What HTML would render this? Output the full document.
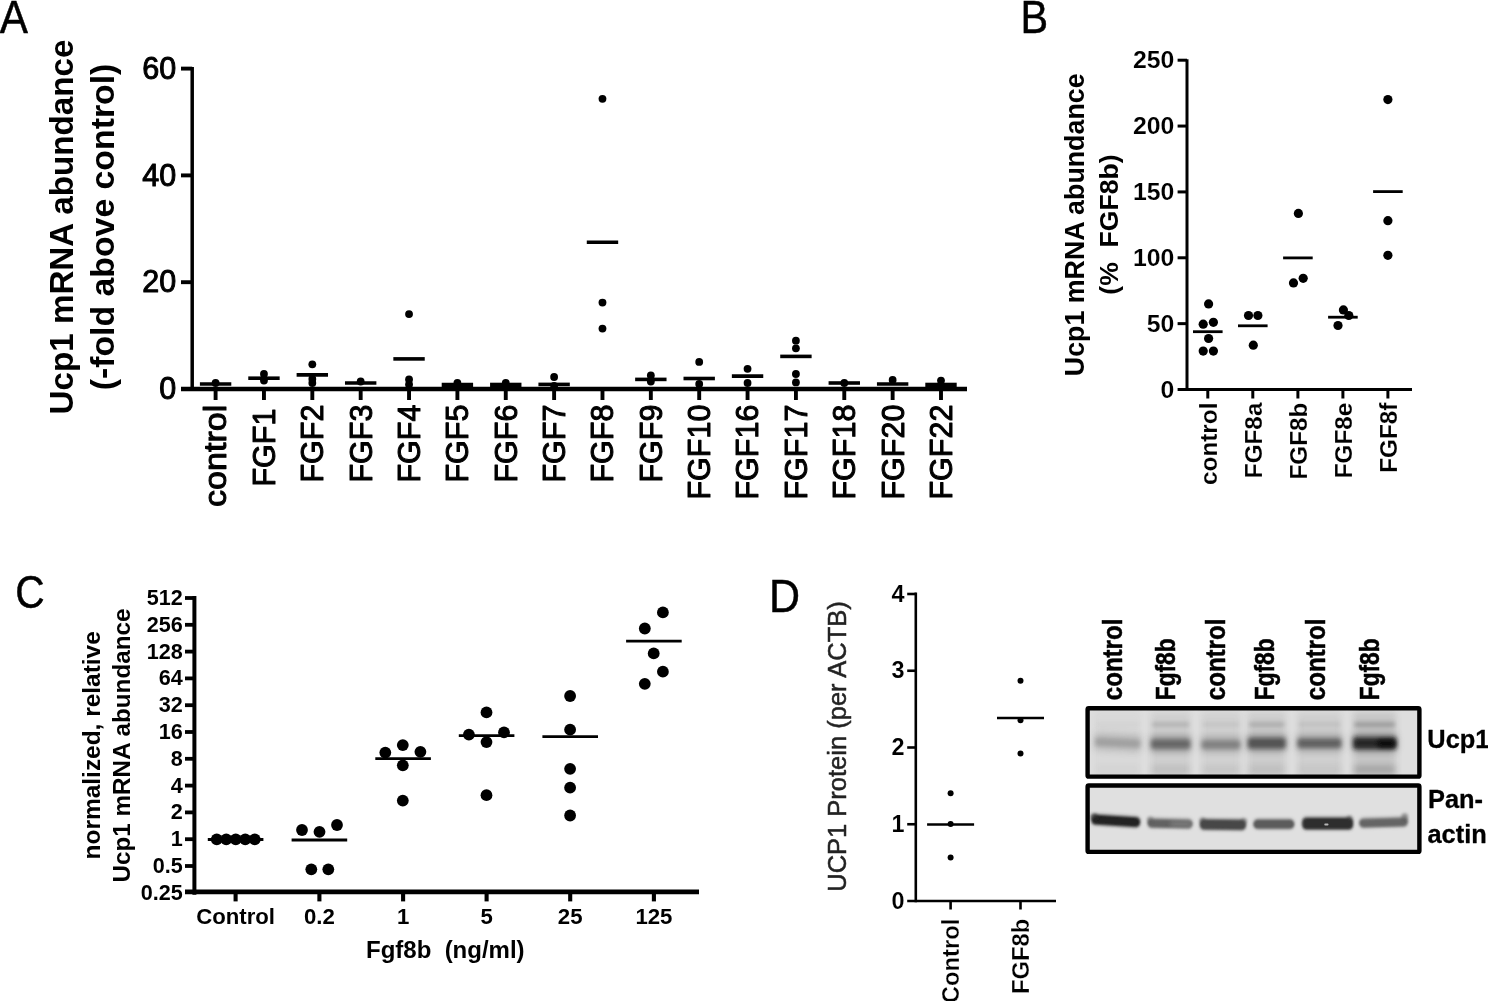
<!DOCTYPE html>
<html><head><meta charset="utf-8"><title>Figure</title>
<style>
html,body{margin:0;padding:0;background:#fff;}
body{width:1488px;height:1001px;overflow:hidden;}
svg{display:block;font-family:'Liberation Sans', sans-serif;}
</style></head><body>
<svg width="1488" height="1001" viewBox="0 0 1488 1001">
<defs>
<filter id="b05" x="-50%" y="-100%" width="200%" height="300%"><feGaussianBlur stdDeviation="0.5"/></filter>
<filter id="b1" x="-20%" y="-80%" width="140%" height="260%"><feGaussianBlur stdDeviation="0.9"/></filter>
<filter id="b15" x="-30%" y="-100%" width="160%" height="300%"><feGaussianBlur stdDeviation="1.5"/></filter>
<filter id="b2" x="-20%" y="-150%" width="140%" height="400%"><feGaussianBlur stdDeviation="2.0"/></filter>
<filter id="b3" x="-20%" y="-60%" width="140%" height="220%"><feGaussianBlur stdDeviation="3"/></filter>
<filter id="soft"><feGaussianBlur stdDeviation="0.45"/></filter>
</defs>
<rect width="1488" height="1001" fill="#fff"/>
<g filter="url(#soft)">
<text transform="translate(-0.3 32.9) scale(0.92 1)" x="0" y="0" font-size="46" stroke="#000" stroke-width="0.5">A</text>
<text transform="translate(1020.6 32.9) scale(0.9 1)" x="0" y="0" font-size="46" stroke="#000" stroke-width="0.5">B</text>
<text transform="translate(15.2 607.7) scale(0.875 1)" x="0" y="0" font-size="46.5" stroke="#000" stroke-width="0.5">C</text>
<text transform="translate(769.0 611.7) scale(0.925 1)" x="0" y="0" font-size="46.5" stroke="#000" stroke-width="0.5">D</text>
<line x1="192.20" y1="67.10" x2="192.20" y2="390.95" stroke="#000" stroke-width="3.5" stroke-linecap="butt"/>
<line x1="181.00" y1="389.00" x2="967.00" y2="389.00" stroke="#000" stroke-width="4.3" stroke-linecap="butt"/>
<line x1="181.00" y1="282.20" x2="192.20" y2="282.20" stroke="#000" stroke-width="3.9" stroke-linecap="butt"/>
<line x1="181.00" y1="175.40" x2="192.20" y2="175.40" stroke="#000" stroke-width="3.9" stroke-linecap="butt"/>
<line x1="181.00" y1="68.60" x2="192.20" y2="68.60" stroke="#000" stroke-width="3.9" stroke-linecap="butt"/>
<text x="176.20" y="399.20" font-size="30.5" font-weight="normal" text-anchor="end" fill="#000" stroke="#000" stroke-width="1.0" stroke-linejoin="round">0</text>
<text x="176.20" y="292.40" font-size="30.5" font-weight="normal" text-anchor="end" fill="#000" stroke="#000" stroke-width="1.0" stroke-linejoin="round">20</text>
<text x="176.20" y="185.60" font-size="30.5" font-weight="normal" text-anchor="end" fill="#000" stroke="#000" stroke-width="1.0" stroke-linejoin="round">40</text>
<text x="176.20" y="78.80" font-size="30.5" font-weight="normal" text-anchor="end" fill="#000" stroke="#000" stroke-width="1.0" stroke-linejoin="round">60</text>
<line x1="215.60" y1="389.00" x2="215.60" y2="400.00" stroke="#000" stroke-width="3.9" stroke-linecap="butt"/>
<text x="226.40" y="404.60" font-size="31" font-weight="normal" text-anchor="end" fill="#000" transform="rotate(-90 226.40 404.60)" textLength="102.5" lengthAdjust="spacingAndGlyphs" stroke="#000" stroke-width="1.0" stroke-linejoin="round">control</text>
<line x1="263.96" y1="389.00" x2="263.96" y2="400.00" stroke="#000" stroke-width="3.9" stroke-linecap="butt"/>
<text x="274.86" y="408.60" font-size="30.5" font-weight="normal" text-anchor="end" fill="#000" transform="rotate(-90 274.86 408.60)" stroke="#000" stroke-width="1.0" stroke-linejoin="round">FGF1</text>
<line x1="312.32" y1="389.00" x2="312.32" y2="400.00" stroke="#000" stroke-width="3.9" stroke-linecap="butt"/>
<text x="323.22" y="404.60" font-size="30.5" font-weight="normal" text-anchor="end" fill="#000" transform="rotate(-90 323.22 404.60)" stroke="#000" stroke-width="1.0" stroke-linejoin="round">FGF2</text>
<line x1="360.68" y1="389.00" x2="360.68" y2="400.00" stroke="#000" stroke-width="3.9" stroke-linecap="butt"/>
<text x="371.58" y="404.60" font-size="30.5" font-weight="normal" text-anchor="end" fill="#000" transform="rotate(-90 371.58 404.60)" stroke="#000" stroke-width="1.0" stroke-linejoin="round">FGF3</text>
<line x1="409.04" y1="389.00" x2="409.04" y2="400.00" stroke="#000" stroke-width="3.9" stroke-linecap="butt"/>
<text x="419.94" y="404.60" font-size="30.5" font-weight="normal" text-anchor="end" fill="#000" transform="rotate(-90 419.94 404.60)" stroke="#000" stroke-width="1.0" stroke-linejoin="round">FGF4</text>
<line x1="457.40" y1="389.00" x2="457.40" y2="400.00" stroke="#000" stroke-width="3.9" stroke-linecap="butt"/>
<text x="468.30" y="404.60" font-size="30.5" font-weight="normal" text-anchor="end" fill="#000" transform="rotate(-90 468.30 404.60)" stroke="#000" stroke-width="1.0" stroke-linejoin="round">FGF5</text>
<line x1="505.76" y1="389.00" x2="505.76" y2="400.00" stroke="#000" stroke-width="3.9" stroke-linecap="butt"/>
<text x="516.66" y="404.60" font-size="30.5" font-weight="normal" text-anchor="end" fill="#000" transform="rotate(-90 516.66 404.60)" stroke="#000" stroke-width="1.0" stroke-linejoin="round">FGF6</text>
<line x1="554.12" y1="389.00" x2="554.12" y2="400.00" stroke="#000" stroke-width="3.9" stroke-linecap="butt"/>
<text x="565.02" y="404.60" font-size="30.5" font-weight="normal" text-anchor="end" fill="#000" transform="rotate(-90 565.02 404.60)" stroke="#000" stroke-width="1.0" stroke-linejoin="round">FGF7</text>
<line x1="602.48" y1="389.00" x2="602.48" y2="400.00" stroke="#000" stroke-width="3.9" stroke-linecap="butt"/>
<text x="613.38" y="404.60" font-size="30.5" font-weight="normal" text-anchor="end" fill="#000" transform="rotate(-90 613.38 404.60)" stroke="#000" stroke-width="1.0" stroke-linejoin="round">FGF8</text>
<line x1="650.84" y1="389.00" x2="650.84" y2="400.00" stroke="#000" stroke-width="3.9" stroke-linecap="butt"/>
<text x="661.74" y="404.60" font-size="30.5" font-weight="normal" text-anchor="end" fill="#000" transform="rotate(-90 661.74 404.60)" stroke="#000" stroke-width="1.0" stroke-linejoin="round">FGF9</text>
<line x1="699.20" y1="389.00" x2="699.20" y2="400.00" stroke="#000" stroke-width="3.9" stroke-linecap="butt"/>
<text x="710.10" y="404.60" font-size="30.5" font-weight="normal" text-anchor="end" fill="#000" transform="rotate(-90 710.10 404.60)" stroke="#000" stroke-width="1.0" stroke-linejoin="round">FGF10</text>
<line x1="747.56" y1="389.00" x2="747.56" y2="400.00" stroke="#000" stroke-width="3.9" stroke-linecap="butt"/>
<text x="758.46" y="404.60" font-size="30.5" font-weight="normal" text-anchor="end" fill="#000" transform="rotate(-90 758.46 404.60)" stroke="#000" stroke-width="1.0" stroke-linejoin="round">FGF16</text>
<line x1="795.92" y1="389.00" x2="795.92" y2="400.00" stroke="#000" stroke-width="3.9" stroke-linecap="butt"/>
<text x="806.82" y="404.60" font-size="30.5" font-weight="normal" text-anchor="end" fill="#000" transform="rotate(-90 806.82 404.60)" stroke="#000" stroke-width="1.0" stroke-linejoin="round">FGF17</text>
<line x1="844.28" y1="389.00" x2="844.28" y2="400.00" stroke="#000" stroke-width="3.9" stroke-linecap="butt"/>
<text x="855.18" y="404.60" font-size="30.5" font-weight="normal" text-anchor="end" fill="#000" transform="rotate(-90 855.18 404.60)" stroke="#000" stroke-width="1.0" stroke-linejoin="round">FGF18</text>
<line x1="892.64" y1="389.00" x2="892.64" y2="400.00" stroke="#000" stroke-width="3.9" stroke-linecap="butt"/>
<text x="903.54" y="404.60" font-size="30.5" font-weight="normal" text-anchor="end" fill="#000" transform="rotate(-90 903.54 404.60)" stroke="#000" stroke-width="1.0" stroke-linejoin="round">FGF20</text>
<line x1="941.00" y1="389.00" x2="941.00" y2="400.00" stroke="#000" stroke-width="3.9" stroke-linecap="butt"/>
<text x="951.90" y="404.60" font-size="30.5" font-weight="normal" text-anchor="end" fill="#000" transform="rotate(-90 951.90 404.60)" stroke="#000" stroke-width="1.0" stroke-linejoin="round">FGF22</text>
<text x="72.70" y="227.00" font-size="33.2" font-weight="bold" text-anchor="middle" fill="#000" transform="rotate(-90 72.70 227.00)">Ucp1 mRNA abundance</text>
<text x="113.60" y="227.00" font-size="33.8" font-weight="bold" text-anchor="middle" fill="#000" transform="rotate(-90 113.60 227.00)">(-fold above control)</text>
<circle cx="215.60" cy="383.00" r="3.9" fill="#000"/>
<line x1="199.90" y1="384.00" x2="231.30" y2="384.00" stroke="#000" stroke-width="3.6" stroke-linecap="butt"/>
<circle cx="263.96" cy="374.00" r="3.9" fill="#000"/>
<circle cx="263.96" cy="380.60" r="3.9" fill="#000"/>
<line x1="248.26" y1="378.20" x2="279.66" y2="378.20" stroke="#000" stroke-width="3.6" stroke-linecap="butt"/>
<circle cx="312.32" cy="364.30" r="3.9" fill="#000"/>
<circle cx="312.32" cy="379.00" r="3.9" fill="#000"/>
<circle cx="312.32" cy="383.00" r="3.9" fill="#000"/>
<line x1="296.62" y1="374.90" x2="328.02" y2="374.90" stroke="#000" stroke-width="3.6" stroke-linecap="butt"/>
<circle cx="360.68" cy="381.50" r="3.9" fill="#000"/>
<line x1="344.98" y1="383.00" x2="376.38" y2="383.00" stroke="#000" stroke-width="3.6" stroke-linecap="butt"/>
<circle cx="409.04" cy="314.10" r="3.9" fill="#000"/>
<circle cx="409.04" cy="379.40" r="3.9" fill="#000"/>
<circle cx="409.04" cy="384.50" r="3.9" fill="#000"/>
<line x1="393.34" y1="358.90" x2="424.74" y2="358.90" stroke="#000" stroke-width="3.6" stroke-linecap="butt"/>
<circle cx="457.40" cy="383.00" r="3.9" fill="#000"/>
<line x1="441.70" y1="385.20" x2="473.10" y2="385.20" stroke="#000" stroke-width="5.0" stroke-linecap="butt"/>
<circle cx="505.76" cy="383.00" r="3.9" fill="#000"/>
<line x1="490.06" y1="385.20" x2="521.46" y2="385.20" stroke="#000" stroke-width="5.0" stroke-linecap="butt"/>
<circle cx="554.12" cy="377.00" r="3.9" fill="#000"/>
<circle cx="554.12" cy="386.00" r="3.9" fill="#000"/>
<line x1="538.42" y1="384.40" x2="569.82" y2="384.40" stroke="#000" stroke-width="3.6" stroke-linecap="butt"/>
<circle cx="602.48" cy="98.80" r="3.9" fill="#000"/>
<circle cx="602.48" cy="302.60" r="3.9" fill="#000"/>
<circle cx="602.48" cy="328.60" r="3.9" fill="#000"/>
<line x1="586.78" y1="242.30" x2="618.18" y2="242.30" stroke="#000" stroke-width="3.6" stroke-linecap="butt"/>
<circle cx="650.84" cy="375.50" r="3.9" fill="#000"/>
<circle cx="650.84" cy="381.50" r="3.9" fill="#000"/>
<line x1="635.14" y1="379.40" x2="666.54" y2="379.40" stroke="#000" stroke-width="3.6" stroke-linecap="butt"/>
<circle cx="699.20" cy="361.90" r="3.9" fill="#000"/>
<circle cx="699.20" cy="384.00" r="3.9" fill="#000"/>
<line x1="683.50" y1="378.50" x2="714.90" y2="378.50" stroke="#000" stroke-width="3.6" stroke-linecap="butt"/>
<circle cx="747.56" cy="368.80" r="3.9" fill="#000"/>
<circle cx="747.56" cy="383.00" r="3.9" fill="#000"/>
<line x1="731.86" y1="376.10" x2="763.26" y2="376.10" stroke="#000" stroke-width="3.6" stroke-linecap="butt"/>
<circle cx="795.92" cy="340.70" r="3.9" fill="#000"/>
<circle cx="795.92" cy="348.30" r="3.9" fill="#000"/>
<circle cx="795.92" cy="374.00" r="3.9" fill="#000"/>
<circle cx="795.92" cy="382.40" r="3.9" fill="#000"/>
<line x1="780.22" y1="356.40" x2="811.62" y2="356.40" stroke="#000" stroke-width="3.6" stroke-linecap="butt"/>
<circle cx="844.28" cy="383.00" r="3.9" fill="#000"/>
<line x1="828.58" y1="383.00" x2="859.98" y2="383.00" stroke="#000" stroke-width="3.6" stroke-linecap="butt"/>
<circle cx="892.64" cy="380.00" r="3.9" fill="#000"/>
<line x1="876.94" y1="384.00" x2="908.34" y2="384.00" stroke="#000" stroke-width="3.6" stroke-linecap="butt"/>
<circle cx="941.00" cy="380.60" r="3.9" fill="#000"/>
<line x1="925.30" y1="385.20" x2="956.70" y2="385.20" stroke="#000" stroke-width="5.0" stroke-linecap="butt"/>
<line x1="1187.00" y1="59.20" x2="1187.00" y2="391.00" stroke="#000" stroke-width="3.0" stroke-linecap="butt"/>
<line x1="1177.60" y1="389.50" x2="1412.00" y2="389.50" stroke="#000" stroke-width="3.0" stroke-linecap="butt"/>
<text x="1174.40" y="397.50" font-size="24.8" font-weight="bold" text-anchor="end" fill="#000" stroke="#fff" stroke-width="0.12" stroke-linejoin="round">0</text>
<line x1="1177.60" y1="323.64" x2="1187.00" y2="323.64" stroke="#000" stroke-width="3.0" stroke-linecap="butt"/>
<text x="1174.40" y="331.64" font-size="24.8" font-weight="bold" text-anchor="end" fill="#000" stroke="#fff" stroke-width="0.12" stroke-linejoin="round">50</text>
<line x1="1177.60" y1="257.78" x2="1187.00" y2="257.78" stroke="#000" stroke-width="3.0" stroke-linecap="butt"/>
<text x="1174.40" y="265.78" font-size="24.8" font-weight="bold" text-anchor="end" fill="#000" stroke="#fff" stroke-width="0.12" stroke-linejoin="round">100</text>
<line x1="1177.60" y1="191.92" x2="1187.00" y2="191.92" stroke="#000" stroke-width="3.0" stroke-linecap="butt"/>
<text x="1174.40" y="199.92" font-size="24.8" font-weight="bold" text-anchor="end" fill="#000" stroke="#fff" stroke-width="0.12" stroke-linejoin="round">150</text>
<line x1="1177.60" y1="126.06" x2="1187.00" y2="126.06" stroke="#000" stroke-width="3.0" stroke-linecap="butt"/>
<text x="1174.40" y="134.06" font-size="24.8" font-weight="bold" text-anchor="end" fill="#000" stroke="#fff" stroke-width="0.12" stroke-linejoin="round">200</text>
<line x1="1177.60" y1="60.20" x2="1187.00" y2="60.20" stroke="#000" stroke-width="3.0" stroke-linecap="butt"/>
<text x="1174.40" y="68.20" font-size="24.8" font-weight="bold" text-anchor="end" fill="#000" stroke="#fff" stroke-width="0.12" stroke-linejoin="round">250</text>
<line x1="1207.80" y1="389.50" x2="1207.80" y2="398.50" stroke="#000" stroke-width="3.0" stroke-linecap="butt"/>
<text x="1216.60" y="402.60" font-size="24.3" font-weight="bold" text-anchor="end" fill="#000" transform="rotate(-90 1216.60 402.60)" stroke="#fff" stroke-width="0.12" stroke-linejoin="round">control</text>
<line x1="1252.80" y1="389.50" x2="1252.80" y2="398.50" stroke="#000" stroke-width="3.0" stroke-linecap="butt"/>
<text x="1261.60" y="402.60" font-size="24.3" font-weight="bold" text-anchor="end" fill="#000" transform="rotate(-90 1261.60 402.60)" stroke="#fff" stroke-width="0.12" stroke-linejoin="round">FGF8a</text>
<line x1="1297.90" y1="389.50" x2="1297.90" y2="398.50" stroke="#000" stroke-width="3.0" stroke-linecap="butt"/>
<text x="1306.70" y="402.60" font-size="24.3" font-weight="bold" text-anchor="end" fill="#000" transform="rotate(-90 1306.70 402.60)" stroke="#fff" stroke-width="0.12" stroke-linejoin="round">FGF8b</text>
<line x1="1342.90" y1="389.50" x2="1342.90" y2="398.50" stroke="#000" stroke-width="3.0" stroke-linecap="butt"/>
<text x="1351.70" y="402.60" font-size="24.3" font-weight="bold" text-anchor="end" fill="#000" transform="rotate(-90 1351.70 402.60)" stroke="#fff" stroke-width="0.12" stroke-linejoin="round">FGF8e</text>
<line x1="1387.90" y1="389.50" x2="1387.90" y2="398.50" stroke="#000" stroke-width="3.0" stroke-linecap="butt"/>
<text x="1396.70" y="402.60" font-size="24.3" font-weight="bold" text-anchor="end" fill="#000" transform="rotate(-90 1396.70 402.60)" stroke="#fff" stroke-width="0.12" stroke-linejoin="round">FGF8f</text>
<text x="1084.50" y="224.80" font-size="26.8" font-weight="bold" text-anchor="middle" fill="#000" transform="rotate(-90 1084.50 224.80)">Ucp1 mRNA abundance</text>
<text x="1118.20" y="224.50" font-size="26.6" font-weight="bold" text-anchor="middle" fill="#000" transform="rotate(-90 1118.20 224.50)">(%  FGF8b)</text>
<circle cx="1208.60" cy="303.90" r="4.6" fill="#000"/>
<circle cx="1203.20" cy="324.20" r="4.6" fill="#000"/>
<circle cx="1213.40" cy="322.30" r="4.6" fill="#000"/>
<circle cx="1208.60" cy="338.50" r="4.6" fill="#000"/>
<circle cx="1203.20" cy="351.10" r="4.6" fill="#000"/>
<circle cx="1213.40" cy="351.10" r="4.6" fill="#000"/>
<line x1="1193.00" y1="331.70" x2="1222.60" y2="331.70" stroke="#000" stroke-width="2.8" stroke-linecap="butt"/>
<circle cx="1248.50" cy="315.50" r="4.6" fill="#000"/>
<circle cx="1257.90" cy="315.50" r="4.6" fill="#000"/>
<circle cx="1253.30" cy="345.20" r="4.6" fill="#000"/>
<line x1="1238.00" y1="325.80" x2="1267.60" y2="325.80" stroke="#000" stroke-width="2.8" stroke-linecap="butt"/>
<circle cx="1298.40" cy="213.40" r="4.6" fill="#000"/>
<circle cx="1293.50" cy="282.90" r="4.6" fill="#000"/>
<circle cx="1303.20" cy="278.30" r="4.6" fill="#000"/>
<line x1="1283.10" y1="257.90" x2="1312.70" y2="257.90" stroke="#000" stroke-width="2.8" stroke-linecap="butt"/>
<circle cx="1343.40" cy="309.90" r="4.6" fill="#000"/>
<circle cx="1348.80" cy="315.50" r="4.6" fill="#000"/>
<circle cx="1338.00" cy="325.50" r="4.6" fill="#000"/>
<line x1="1328.10" y1="317.20" x2="1357.70" y2="317.20" stroke="#000" stroke-width="2.8" stroke-linecap="butt"/>
<circle cx="1387.90" cy="99.60" r="4.6" fill="#000"/>
<circle cx="1387.90" cy="220.70" r="4.6" fill="#000"/>
<circle cx="1387.90" cy="255.30" r="4.6" fill="#000"/>
<line x1="1373.10" y1="191.60" x2="1402.70" y2="191.60" stroke="#000" stroke-width="2.8" stroke-linecap="butt"/>
<line x1="194.40" y1="596.00" x2="194.40" y2="894.80" stroke="#000" stroke-width="4.0" stroke-linecap="butt"/>
<line x1="185.00" y1="891.90" x2="699.00" y2="891.90" stroke="#000" stroke-width="4.9" stroke-linecap="butt"/>
<line x1="185.00" y1="598.00" x2="194.40" y2="598.00" stroke="#000" stroke-width="3.8" stroke-linecap="butt"/>
<text x="182.80" y="604.90" font-size="21.6" font-weight="bold" text-anchor="end" fill="#000">512</text>
<line x1="185.00" y1="624.80" x2="194.40" y2="624.80" stroke="#000" stroke-width="3.8" stroke-linecap="butt"/>
<text x="182.80" y="631.70" font-size="21.6" font-weight="bold" text-anchor="end" fill="#000">256</text>
<line x1="185.00" y1="651.60" x2="194.40" y2="651.60" stroke="#000" stroke-width="3.8" stroke-linecap="butt"/>
<text x="182.80" y="658.50" font-size="21.6" font-weight="bold" text-anchor="end" fill="#000">128</text>
<line x1="185.00" y1="678.40" x2="194.40" y2="678.40" stroke="#000" stroke-width="3.8" stroke-linecap="butt"/>
<text x="182.80" y="685.30" font-size="21.6" font-weight="bold" text-anchor="end" fill="#000">64</text>
<line x1="185.00" y1="705.20" x2="194.40" y2="705.20" stroke="#000" stroke-width="3.8" stroke-linecap="butt"/>
<text x="182.80" y="712.10" font-size="21.6" font-weight="bold" text-anchor="end" fill="#000">32</text>
<line x1="185.00" y1="732.00" x2="194.40" y2="732.00" stroke="#000" stroke-width="3.8" stroke-linecap="butt"/>
<text x="182.80" y="738.90" font-size="21.6" font-weight="bold" text-anchor="end" fill="#000">16</text>
<line x1="185.00" y1="758.80" x2="194.40" y2="758.80" stroke="#000" stroke-width="3.8" stroke-linecap="butt"/>
<text x="182.80" y="765.70" font-size="21.6" font-weight="bold" text-anchor="end" fill="#000">8</text>
<line x1="185.00" y1="785.60" x2="194.40" y2="785.60" stroke="#000" stroke-width="3.8" stroke-linecap="butt"/>
<text x="182.80" y="792.50" font-size="21.6" font-weight="bold" text-anchor="end" fill="#000">4</text>
<line x1="185.00" y1="812.40" x2="194.40" y2="812.40" stroke="#000" stroke-width="3.8" stroke-linecap="butt"/>
<text x="182.80" y="819.30" font-size="21.6" font-weight="bold" text-anchor="end" fill="#000">2</text>
<line x1="185.00" y1="839.20" x2="194.40" y2="839.20" stroke="#000" stroke-width="3.8" stroke-linecap="butt"/>
<text x="182.80" y="846.10" font-size="21.6" font-weight="bold" text-anchor="end" fill="#000">1</text>
<line x1="185.00" y1="866.00" x2="194.40" y2="866.00" stroke="#000" stroke-width="3.8" stroke-linecap="butt"/>
<text x="182.80" y="872.90" font-size="21.6" font-weight="bold" text-anchor="end" fill="#000">0.5</text>
<text x="182.80" y="899.70" font-size="21.6" font-weight="bold" text-anchor="end" fill="#000">0.25</text>
<line x1="235.60" y1="892.80" x2="235.60" y2="901.40" stroke="#000" stroke-width="4.1" stroke-linecap="butt"/>
<text x="235.60" y="924.30" font-size="22.2" font-weight="bold" text-anchor="middle" fill="#000">Control</text>
<line x1="319.40" y1="892.80" x2="319.40" y2="901.40" stroke="#000" stroke-width="4.1" stroke-linecap="butt"/>
<text x="319.40" y="924.30" font-size="22.2" font-weight="bold" text-anchor="middle" fill="#000">0.2</text>
<line x1="403.10" y1="892.80" x2="403.10" y2="901.40" stroke="#000" stroke-width="4.1" stroke-linecap="butt"/>
<text x="403.10" y="924.30" font-size="22.2" font-weight="bold" text-anchor="middle" fill="#000">1</text>
<line x1="486.60" y1="892.80" x2="486.60" y2="901.40" stroke="#000" stroke-width="4.1" stroke-linecap="butt"/>
<text x="486.60" y="924.30" font-size="22.2" font-weight="bold" text-anchor="middle" fill="#000">5</text>
<line x1="570.20" y1="892.80" x2="570.20" y2="901.40" stroke="#000" stroke-width="4.1" stroke-linecap="butt"/>
<text x="570.20" y="924.30" font-size="22.2" font-weight="bold" text-anchor="middle" fill="#000">25</text>
<line x1="653.90" y1="892.80" x2="653.90" y2="901.40" stroke="#000" stroke-width="4.1" stroke-linecap="butt"/>
<text x="653.90" y="924.30" font-size="22.2" font-weight="bold" text-anchor="middle" fill="#000">125</text>
<text x="445.30" y="958.00" font-size="24" font-weight="bold" text-anchor="middle" fill="#000">Fgf8b  (ng/ml)</text>
<text x="100.00" y="745.30" font-size="24.45" font-weight="bold" text-anchor="middle" fill="#000" transform="rotate(-90 100.00 745.30)">normalized, relative</text>
<text x="129.60" y="745.50" font-size="24.25" font-weight="bold" text-anchor="middle" fill="#000" transform="rotate(-90 129.60 745.50)">Ucp1 mRNA abundance</text>
<circle cx="216.75" cy="839.30" r="5.9" fill="#000"/>
<circle cx="226.25" cy="839.30" r="5.9" fill="#000"/>
<circle cx="235.75" cy="839.30" r="5.9" fill="#000"/>
<circle cx="245.25" cy="839.30" r="5.9" fill="#000"/>
<circle cx="254.75" cy="839.30" r="5.9" fill="#000"/>
<line x1="207.80" y1="839.50" x2="263.40" y2="839.50" stroke="#000" stroke-width="2.8" stroke-linecap="butt"/>
<circle cx="302.00" cy="830.00" r="5.9" fill="#000"/>
<circle cx="319.50" cy="831.80" r="5.9" fill="#000"/>
<circle cx="337.00" cy="825.00" r="5.9" fill="#000"/>
<circle cx="311.30" cy="869.30" r="5.9" fill="#000"/>
<circle cx="328.30" cy="869.30" r="5.9" fill="#000"/>
<line x1="291.60" y1="840.00" x2="347.20" y2="840.00" stroke="#000" stroke-width="2.8" stroke-linecap="butt"/>
<circle cx="402.80" cy="745.10" r="5.9" fill="#000"/>
<circle cx="385.30" cy="752.60" r="5.9" fill="#000"/>
<circle cx="420.40" cy="751.80" r="5.9" fill="#000"/>
<circle cx="402.80" cy="765.30" r="5.9" fill="#000"/>
<circle cx="402.80" cy="800.60" r="5.9" fill="#000"/>
<line x1="375.30" y1="758.60" x2="430.90" y2="758.60" stroke="#000" stroke-width="2.8" stroke-linecap="butt"/>
<circle cx="486.50" cy="712.40" r="5.9" fill="#000"/>
<circle cx="468.90" cy="734.60" r="5.9" fill="#000"/>
<circle cx="504.00" cy="732.40" r="5.9" fill="#000"/>
<circle cx="486.50" cy="742.10" r="5.9" fill="#000"/>
<circle cx="486.50" cy="795.20" r="5.9" fill="#000"/>
<line x1="458.80" y1="735.60" x2="514.40" y2="735.60" stroke="#000" stroke-width="2.8" stroke-linecap="butt"/>
<circle cx="570.10" cy="696.00" r="5.9" fill="#000"/>
<circle cx="570.10" cy="729.70" r="5.9" fill="#000"/>
<circle cx="570.10" cy="768.80" r="5.9" fill="#000"/>
<circle cx="570.10" cy="787.70" r="5.9" fill="#000"/>
<circle cx="570.10" cy="815.50" r="5.9" fill="#000"/>
<line x1="542.40" y1="736.70" x2="598.00" y2="736.70" stroke="#000" stroke-width="2.8" stroke-linecap="butt"/>
<circle cx="662.90" cy="612.40" r="5.9" fill="#000"/>
<circle cx="644.80" cy="628.50" r="5.9" fill="#000"/>
<circle cx="653.70" cy="653.40" r="5.9" fill="#000"/>
<circle cx="662.90" cy="671.70" r="5.9" fill="#000"/>
<circle cx="644.80" cy="683.80" r="5.9" fill="#000"/>
<line x1="626.10" y1="641.20" x2="681.70" y2="641.20" stroke="#000" stroke-width="2.8" stroke-linecap="butt"/>
<line x1="915.80" y1="592.50" x2="915.80" y2="902.30" stroke="#000" stroke-width="2.6" stroke-linecap="butt"/>
<line x1="907.20" y1="901.00" x2="1056.00" y2="901.00" stroke="#000" stroke-width="2.6" stroke-linecap="butt"/>
<text x="904.40" y="908.50" font-size="23.4" font-weight="bold" text-anchor="end" fill="#000" stroke="#fff" stroke-width="0.1" stroke-linejoin="round">0</text>
<line x1="907.20" y1="824.25" x2="915.80" y2="824.25" stroke="#000" stroke-width="2.6" stroke-linecap="butt"/>
<text x="904.40" y="831.75" font-size="23.4" font-weight="bold" text-anchor="end" fill="#000" stroke="#fff" stroke-width="0.1" stroke-linejoin="round">1</text>
<line x1="907.20" y1="747.50" x2="915.80" y2="747.50" stroke="#000" stroke-width="2.6" stroke-linecap="butt"/>
<text x="904.40" y="755.00" font-size="23.4" font-weight="bold" text-anchor="end" fill="#000" stroke="#fff" stroke-width="0.1" stroke-linejoin="round">2</text>
<line x1="907.20" y1="670.75" x2="915.80" y2="670.75" stroke="#000" stroke-width="2.6" stroke-linecap="butt"/>
<text x="904.40" y="678.25" font-size="23.4" font-weight="bold" text-anchor="end" fill="#000" stroke="#fff" stroke-width="0.1" stroke-linejoin="round">3</text>
<line x1="907.20" y1="594.00" x2="915.80" y2="594.00" stroke="#000" stroke-width="2.6" stroke-linecap="butt"/>
<text x="904.40" y="601.50" font-size="23.4" font-weight="bold" text-anchor="end" fill="#000" stroke="#fff" stroke-width="0.1" stroke-linejoin="round">4</text>
<line x1="950.60" y1="901.00" x2="950.60" y2="909.50" stroke="#000" stroke-width="2.6" stroke-linecap="butt"/>
<text x="959.10" y="918.60" font-size="23.8" font-weight="bold" text-anchor="end" fill="#000" transform="rotate(-90 959.10 918.60)" stroke="#fff" stroke-width="0.25" stroke-linejoin="round">Control</text>
<line x1="1020.50" y1="901.00" x2="1020.50" y2="909.50" stroke="#000" stroke-width="2.6" stroke-linecap="butt"/>
<text x="1029.00" y="918.60" font-size="23.8" font-weight="bold" text-anchor="end" fill="#000" transform="rotate(-90 1029.00 918.60)" stroke="#fff" stroke-width="0.25" stroke-linejoin="round">FGF8b</text>
<text x="845.80" y="746.50" font-size="25.5" font-weight="normal" text-anchor="middle" fill="#242424" transform="rotate(-90 845.80 746.50)" stroke="#242424" stroke-width="0.5" stroke-linejoin="round">UCP1 Protein (per ACTB)</text>
<circle cx="950.60" cy="793.30" r="3.0" fill="#000"/>
<circle cx="950.60" cy="824.00" r="3.0" fill="#000"/>
<circle cx="950.60" cy="857.60" r="3.0" fill="#000"/>
<line x1="927.10" y1="824.40" x2="974.10" y2="824.40" stroke="#000" stroke-width="2.5" stroke-linecap="butt"/>
<circle cx="1020.50" cy="680.80" r="3.0" fill="#000"/>
<circle cx="1020.50" cy="720.30" r="3.0" fill="#000"/>
<circle cx="1020.50" cy="753.40" r="3.0" fill="#000"/>
<line x1="997.00" y1="717.90" x2="1044.00" y2="717.90" stroke="#000" stroke-width="2.5" stroke-linecap="butt"/>
<clipPath id="c1"><rect x="1087.4" y="708.0" width="332.1999999999998" height="68.79999999999995"/></clipPath>
<clipPath id="c2"><rect x="1087.4" y="785.3" width="332.1999999999998" height="66.80000000000007"/></clipPath>
<g clip-path="url(#c1)">
<rect x="1085.4" y="706.0" width="336.2" height="72.8" rx="0" fill="#dedede" opacity="1.0"/>
<rect x="1095.2" y="712.0" width="45.0" height="66.0" rx="0" fill="#6a6a6a" opacity="0.04" filter="url(#b3)"/>
<rect x="1096.2" y="722.3" width="43.0" height="4.5" rx="0" fill="#555" opacity="0.05" filter="url(#b2)"/>
<rect x="1096.2" y="765.5" width="43.0" height="8.0" rx="0" fill="#555" opacity="0.03" filter="url(#b3)"/>
<rect x="1093.7" y="732.8" width="48.0" height="19.0" rx="5" fill="#5a5a5a" opacity="0.2" filter="url(#b3)" transform="rotate(2.6 1117.7 742.8)"/>
<rect x="1095.2" y="738.5" width="45.0" height="8.6" rx="3" fill="#888888" opacity="0.55" filter="url(#b2)" transform="rotate(2.6 1117.7 742.8)"/>
<rect x="1151.0" y="712.0" width="39.2" height="66.0" rx="0" fill="#6a6a6a" opacity="0.12" filter="url(#b3)"/>
<rect x="1152.0" y="722.3" width="37.2" height="4.5" rx="0" fill="#555" opacity="0.26" filter="url(#b2)"/>
<rect x="1152.0" y="765.5" width="37.2" height="8.0" rx="0" fill="#555" opacity="0.14" filter="url(#b3)"/>
<rect x="1149.5" y="734.0" width="42.2" height="19.0" rx="5" fill="#5a5a5a" opacity="0.34" filter="url(#b3)"/>
<rect x="1151.0" y="739.2" width="39.2" height="9.6" rx="3" fill="#505050" opacity="0.72" filter="url(#b2)"/>
<rect x="1201.6" y="712.0" width="38.6" height="66.0" rx="0" fill="#6a6a6a" opacity="0.1" filter="url(#b3)"/>
<rect x="1202.6" y="722.3" width="36.6" height="4.5" rx="0" fill="#555" opacity="0.12" filter="url(#b2)"/>
<rect x="1202.6" y="765.5" width="36.6" height="8.0" rx="0" fill="#555" opacity="0.1" filter="url(#b3)"/>
<rect x="1200.1" y="734.6" width="41.6" height="19.0" rx="5" fill="#5a5a5a" opacity="0.24" filter="url(#b3)"/>
<rect x="1201.6" y="740.3" width="38.6" height="8.6" rx="3" fill="#686868" opacity="0.66" filter="url(#b2)"/>
<rect x="1248.0" y="712.0" width="37.5" height="66.0" rx="0" fill="#6a6a6a" opacity="0.14" filter="url(#b3)"/>
<rect x="1249.0" y="722.3" width="35.5" height="4.5" rx="0" fill="#555" opacity="0.3" filter="url(#b2)"/>
<rect x="1249.0" y="765.5" width="35.5" height="8.0" rx="0" fill="#555" opacity="0.12" filter="url(#b3)"/>
<rect x="1246.5" y="733.2" width="40.5" height="19.0" rx="5" fill="#5a5a5a" opacity="0.38" filter="url(#b3)"/>
<rect x="1248.0" y="737.9" width="37.5" height="10.6" rx="3" fill="#404040" opacity="0.8" filter="url(#b2)"/>
<rect x="1297.5" y="712.0" width="43.8" height="66.0" rx="0" fill="#6a6a6a" opacity="0.12" filter="url(#b3)"/>
<rect x="1298.5" y="722.3" width="41.8" height="4.5" rx="0" fill="#555" opacity="0.14" filter="url(#b2)"/>
<rect x="1298.5" y="765.5" width="41.8" height="8.0" rx="0" fill="#555" opacity="0.08" filter="url(#b3)"/>
<rect x="1296.0" y="733.2" width="46.8" height="19.0" rx="5" fill="#5a5a5a" opacity="0.3" filter="url(#b3)"/>
<rect x="1297.5" y="738.4" width="43.8" height="9.6" rx="3" fill="#4a4a4a" opacity="0.74" filter="url(#b2)"/>
<rect x="1353.3" y="712.0" width="42.7" height="66.0" rx="0" fill="#6a6a6a" opacity="0.2" filter="url(#b3)"/>
<rect x="1354.3" y="722.3" width="40.7" height="4.5" rx="0" fill="#555" opacity="0.42" filter="url(#b2)"/>
<rect x="1354.3" y="765.5" width="40.7" height="8.0" rx="0" fill="#555" opacity="0.3" filter="url(#b3)"/>
<rect x="1351.8" y="733.2" width="45.7" height="19.0" rx="5" fill="#5a5a5a" opacity="0.5" filter="url(#b3)"/>
<rect x="1353.3" y="737.4" width="42.7" height="11.6" rx="3" fill="#1e1e1e" opacity="0.9" filter="url(#b2)"/>
<rect x="1377.0" y="739.2" width="19.0" height="8.5" rx="4" fill="#000" opacity="0.62" filter="url(#b2)"/>
</g>
<rect x="1087.6000000000001" y="708.2" width="331.79999999999984" height="68.39999999999995" rx="1.2" fill="none" stroke="#000" stroke-width="4.4"/>
<g clip-path="url(#c2)">
<rect x="1085.4" y="783.3" width="336.2" height="70.8" rx="0" fill="#e0e0e0" opacity="1.0"/>
<rect x="1090.8" y="814.5" width="49.9" height="12.5" rx="5" fill="#1e1e1e" opacity="0.35" filter="url(#b15)" transform="rotate(3.6 1115.8 820.8)"/>
<rect x="1091.5" y="816.3" width="48.5" height="9.3" rx="4.5" fill="#1e1e1e" opacity="0.96" filter="url(#b1)" transform="rotate(3.6 1115.8 820.8)"/>
<rect x="1147.0" y="817.6" width="46.1" height="11.5" rx="5" fill="#5c5c5c" opacity="0.35" filter="url(#b15)" transform="rotate(1.2 1170.0 823.4)"/>
<rect x="1147.7" y="819.4" width="44.7" height="8.3" rx="4.5" fill="#5c5c5c" opacity="0.92" filter="url(#b1)" transform="rotate(1.2 1170.0 823.4)"/>
<rect x="1199.3" y="817.9" width="47.2" height="13.0" rx="5" fill="#424242" opacity="0.35" filter="url(#b15)" transform="rotate(0.6 1222.9 824.4)"/>
<rect x="1200.0" y="819.7" width="45.8" height="9.8" rx="4.5" fill="#424242" opacity="0.95" filter="url(#b1)" transform="rotate(0.6 1222.9 824.4)"/>
<rect x="1252.9" y="818.0" width="41.9" height="12.0" rx="5" fill="#555555" opacity="0.35" filter="url(#b15)"/>
<rect x="1253.6" y="819.8" width="40.5" height="8.8" rx="4.5" fill="#555555" opacity="0.93" filter="url(#b1)"/>
<rect x="1301.7" y="816.1" width="51.9" height="14.5" rx="5" fill="#2c2c2c" opacity="0.35" filter="url(#b15)"/>
<rect x="1302.4" y="817.9" width="50.5" height="11.3" rx="4.5" fill="#2c2c2c" opacity="0.96" filter="url(#b1)"/>
<rect x="1358.7" y="816.6" width="49.6" height="11.5" rx="5" fill="#5e5e5e" opacity="0.35" filter="url(#b15)" transform="rotate(-1.6 1383.5 822.4)"/>
<rect x="1359.4" y="818.4" width="48.2" height="8.3" rx="4.5" fill="#5e5e5e" opacity="0.92" filter="url(#b1)" transform="rotate(-1.6 1383.5 822.4)"/>
<rect x="1090.5" y="813.2" width="7.0" height="6.0" rx="3" fill="#333" opacity="0.55" filter="url(#b15)"/>
<rect x="1147.0" y="816.6" width="6.0" height="6.0" rx="3" fill="#555" opacity="0.45" filter="url(#b15)"/>
<rect x="1199.5" y="817.6" width="6.0" height="6.0" rx="3" fill="#444" opacity="0.45" filter="url(#b15)"/>
<rect x="1241.0" y="818.0" width="6.0" height="6.0" rx="3" fill="#444" opacity="0.4" filter="url(#b15)"/>
<rect x="1346.5" y="815.6" width="6.0" height="6.0" rx="3" fill="#333" opacity="0.4" filter="url(#b15)"/>
<rect x="1401.5" y="813.2" width="6.5" height="8.0" rx="3" fill="#555" opacity="0.55" filter="url(#b15)"/>
<rect x="1170.0" y="820.5" width="22.0" height="7.0" rx="3" fill="#e0e0e0" opacity="0.16" filter="url(#b2)"/>
<rect x="1324.3" y="823.6" width="4.2" height="1.8" rx="0.9" fill="#fff" opacity="0.65" filter="url(#b05)"/>
</g>
<rect x="1087.6000000000001" y="785.5" width="331.79999999999984" height="66.40000000000006" rx="1.2" fill="none" stroke="#000" stroke-width="4.4"/>
<text x="1121.80" y="700.20" font-size="27.5" font-weight="bold" text-anchor="start" fill="#000" transform="rotate(-90 1121.80 700.20)" textLength="81.6" lengthAdjust="spacingAndGlyphs" stroke="#000" stroke-width="0.5" stroke-linejoin="round">control</text>
<text x="1175.30" y="700.20" font-size="27.5" font-weight="bold" text-anchor="start" fill="#000" transform="rotate(-90 1175.30 700.20)" textLength="61.8" lengthAdjust="spacingAndGlyphs" stroke="#000" stroke-width="0.5" stroke-linejoin="round">Fgf8b</text>
<text x="1224.70" y="700.20" font-size="27.5" font-weight="bold" text-anchor="start" fill="#000" transform="rotate(-90 1224.70 700.20)" textLength="81.6" lengthAdjust="spacingAndGlyphs" stroke="#000" stroke-width="0.5" stroke-linejoin="round">control</text>
<text x="1274.20" y="700.20" font-size="27.5" font-weight="bold" text-anchor="start" fill="#000" transform="rotate(-90 1274.20 700.20)" textLength="61.8" lengthAdjust="spacingAndGlyphs" stroke="#000" stroke-width="0.5" stroke-linejoin="round">Fgf8b</text>
<text x="1324.70" y="700.20" font-size="27.5" font-weight="bold" text-anchor="start" fill="#000" transform="rotate(-90 1324.70 700.20)" textLength="81.6" lengthAdjust="spacingAndGlyphs" stroke="#000" stroke-width="0.5" stroke-linejoin="round">control</text>
<text x="1378.70" y="700.20" font-size="27.5" font-weight="bold" text-anchor="start" fill="#000" transform="rotate(-90 1378.70 700.20)" textLength="61.8" lengthAdjust="spacingAndGlyphs" stroke="#000" stroke-width="0.5" stroke-linejoin="round">Fgf8b</text>
<text x="1427.30" y="748.00" font-size="25.4" font-weight="bold" text-anchor="start" fill="#000" stroke="#000" stroke-width="0.3" stroke-linejoin="round">Ucp1</text>
<text x="1428.00" y="808.00" font-size="25.4" font-weight="bold" text-anchor="start" fill="#000" stroke="#000" stroke-width="0.3" stroke-linejoin="round">Pan-</text>
<text x="1427.50" y="843.40" font-size="25.4" font-weight="bold" text-anchor="start" fill="#000" stroke="#000" stroke-width="0.3" stroke-linejoin="round">actin</text>
</g>
</svg>
</body></html>
